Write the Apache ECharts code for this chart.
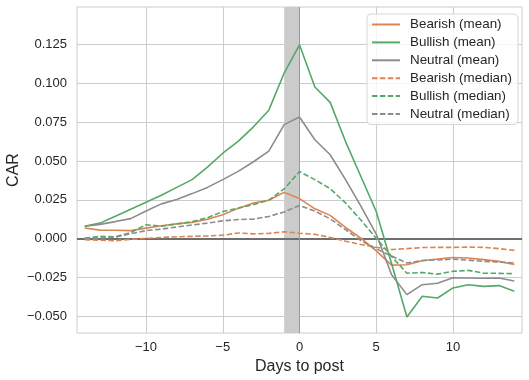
<!DOCTYPE html>
<html>
<head>
<meta charset="utf-8">
<script src="https://cdn.jsdelivr.net/npm/echarts@6/dist/echarts.min.js"></script>
<style>
  html, body { margin: 0; padding: 0; background: #fff; }
  #chart { width: 529px; height: 380px; }
</style>
</head>
<body>
<div id="chart"></div>
<script>
const days = [-14, -13, -12, -11, -10, -9, -8, -7, -6, -5, -4, -3, -2, -1, 0,
  1, 2, 3, 4, 5, 6, 7, 8, 9, 10, 11, 12, 13, 14];

const bearishMean = [0.0069, 0.0055, 0.0054, 0.0052, 0.0068, 0.0083, 0.0095, 0.0105, 0.0125, 0.0154,
  0.0195, 0.0230, 0.0247, 0.0298, 0.0258, 0.0192, 0.0150, 0.0072, 0.0004, -0.0078,
  -0.0170, -0.0168, -0.0142, -0.0131, -0.0121, -0.0124, -0.0135, -0.0146, -0.0166];
const bullishMean = [0.0080, 0.0100, 0.0145, 0.0190, 0.0235, 0.0280, 0.0330, 0.0380, 0.0460, 0.0550,
  0.0626, 0.0720, 0.0827, 0.1066, 0.1248, 0.0976, 0.0877, 0.0625, 0.0400, 0.0175,
  -0.0160, -0.0504, -0.0371, -0.0382, -0.0317, -0.0296, -0.0307, -0.0302, -0.0339];
const neutralMean = [0.0080, 0.0092, 0.0110, 0.0129, 0.0178, 0.0224, 0.0252, 0.0290, 0.0330, 0.0380,
  0.0433, 0.0495, 0.0563, 0.0734, 0.0783, 0.0637, 0.0540, 0.0380, 0.0210, 0.0030,
  -0.0232, -0.0360, -0.0296, -0.0287, -0.0251, -0.0253, -0.0255, -0.0253, -0.0272];
const bearishMedian = [-0.0006, -0.0010, -0.0013, -0.0004, 0.0002, 0.0008, 0.0012, 0.0015, 0.0018, 0.0022,
  0.0037, 0.0031, 0.0034, 0.0045, 0.0035, 0.0028, 0.0008, -0.0016, -0.0038, -0.0055,
  -0.0070, -0.0064, -0.0057, -0.0056, -0.0056, -0.0054, -0.0056, -0.0064, -0.0075];
const bullishMedian = [0.0002, 0.0015, 0.0012, 0.0040, 0.0090, 0.0080, 0.0095, 0.0110, 0.0135, 0.0175,
  0.0197, 0.0220, 0.0248, 0.0320, 0.0432, 0.0380, 0.0322, 0.0230, 0.0120, 0.0003,
  -0.0114, -0.0222, -0.0218, -0.0228, -0.0210, -0.0204, -0.0222, -0.0223, -0.0225];
const neutralMedian = [0.0003, 0.0004, 0.0010, 0.0032, 0.0052, 0.0062, 0.0075, 0.0088, 0.0100, 0.0115,
  0.0123, 0.0126, 0.0143, 0.0172, 0.0214, 0.0177, 0.0128, 0.0058, -0.0012, -0.0065,
  -0.0112, -0.0157, -0.0140, -0.0137, -0.0132, -0.0138, -0.0146, -0.0150, -0.0157];

const xTicks = [-10, -5, 0, 5, 10];
const yTicks = [-0.05, -0.025, 0, 0.025, 0.05, 0.075, 0.1, 0.125];

const ORANGE = '#dd8452';
const GREEN = '#55a868';
const GRAY = '#8c8c8c';
const TEXT = '#262626';
const FONT = '"Liberation Sans", Arial, sans-serif';

const minus = s => s.replace('-', '\u2212');

function line(name, values, color, dashed) {
  return {
    name: name,
    type: 'line',
    data: days.map((d, i) => [d, values[i]]),
    symbol: 'none',
    z: 5,
    lineStyle: { color: color, width: 1.6, type: dashed ? [5.5, 2.4] : 'solid' },
    itemStyle: { color: color }
  };
}

const series = [
  line('Bearish (mean)', bearishMean, ORANGE, false),
  line('Bullish (mean)', bullishMean, GREEN, false),
  line('Neutral (mean)', neutralMean, GRAY, false),
  line('Bearish (median)', bearishMedian, ORANGE, true),
  line('Bullish (median)', bullishMedian, GREEN, true),
  line('Neutral (median)', neutralMedian, GRAY, true)
];

// shaded event window and the zero line
series[0].markArea = {
  silent: true,
  itemStyle: { color: '#cbcbcb' },
  data: [[{ xAxis: -1 }, { xAxis: 0 }]]
};
series[0].markLine = {
  silent: true,
  symbol: 'none',
  label: { show: false },
  data: [
    { yAxis: 0, lineStyle: { color: '#6e6e6e', width: 1.8, type: 'solid' } },
    { xAxis: 0, lineStyle: { color: '#9a9a9a', width: 1, type: 'solid' } }
  ]
};

const chart = echarts.init(document.getElementById('chart'), null, { renderer: 'canvas' });

chart.setOption({
  animation: false,
  backgroundColor: '#ffffff',
  textStyle: { fontFamily: FONT, color: TEXT },
  grid: {
    left: 77, right: 7, top: 7, bottom: 47,
    outerBoundsMode: 'none',
    containLabel: false,
    show: true, borderColor: '#cccccc', borderWidth: 1
  },
  legend: {
    orient: 'vertical',
    left: 367,
    top: 14,
    padding: [4, 6, 4, 4],
    itemGap: 4.9,
    itemWidth: 28,
    itemHeight: 14,
    itemStyle: { opacity: 0 },
    backgroundColor: 'rgba(255,255,255,0.8)',
    borderColor: '#d6d6d6',
    borderWidth: 1,
    borderRadius: 4,
    textStyle: { fontSize: 13.4, color: TEXT, fontFamily: FONT, padding: [0, 0, 0, 5] },
    data: series.map(s => s.name)
  },
  xAxis: {
    type: 'value',
    min: -14.5,
    max: 14.5,
    name: 'Days to post',
    nameLocation: 'middle',
    nameGap: 26,
    nameMoveOverlap: false,
    nameTextStyle: { fontSize: 16, color: TEXT, fontFamily: FONT },
    axisLine: { show: false },
    axisTick: { show: false, customValues: xTicks },
    axisLabel: {
      customValues: xTicks,
      margin: 8,
      fontSize: 13,
      color: TEXT,
      fontFamily: FONT,
      formatter: v => minus(String(v))
    },
    splitLine: { show: true, lineStyle: { color: '#cccccc', width: 1 } }
  },
  yAxis: {
    type: 'value',
    min: -0.0607,
    max: 0.1491,
    name: 'CAR',
    nameLocation: 'middle',
    nameGap: 55,
    nameMoveOverlap: false,
    nameTextStyle: { fontSize: 16, color: TEXT, fontFamily: FONT },
    axisLine: { show: false },
    axisTick: { show: false, customValues: yTicks },
    axisLabel: {
      customValues: yTicks,
      margin: 10,
      fontSize: 13,
      color: TEXT,
      fontFamily: FONT,
      formatter: v => minus(v.toFixed(3))
    },
    splitLine: { show: true, lineStyle: { color: '#cccccc', width: 1 } }
  },
  series: series
});
</script>
</body>
</html>
